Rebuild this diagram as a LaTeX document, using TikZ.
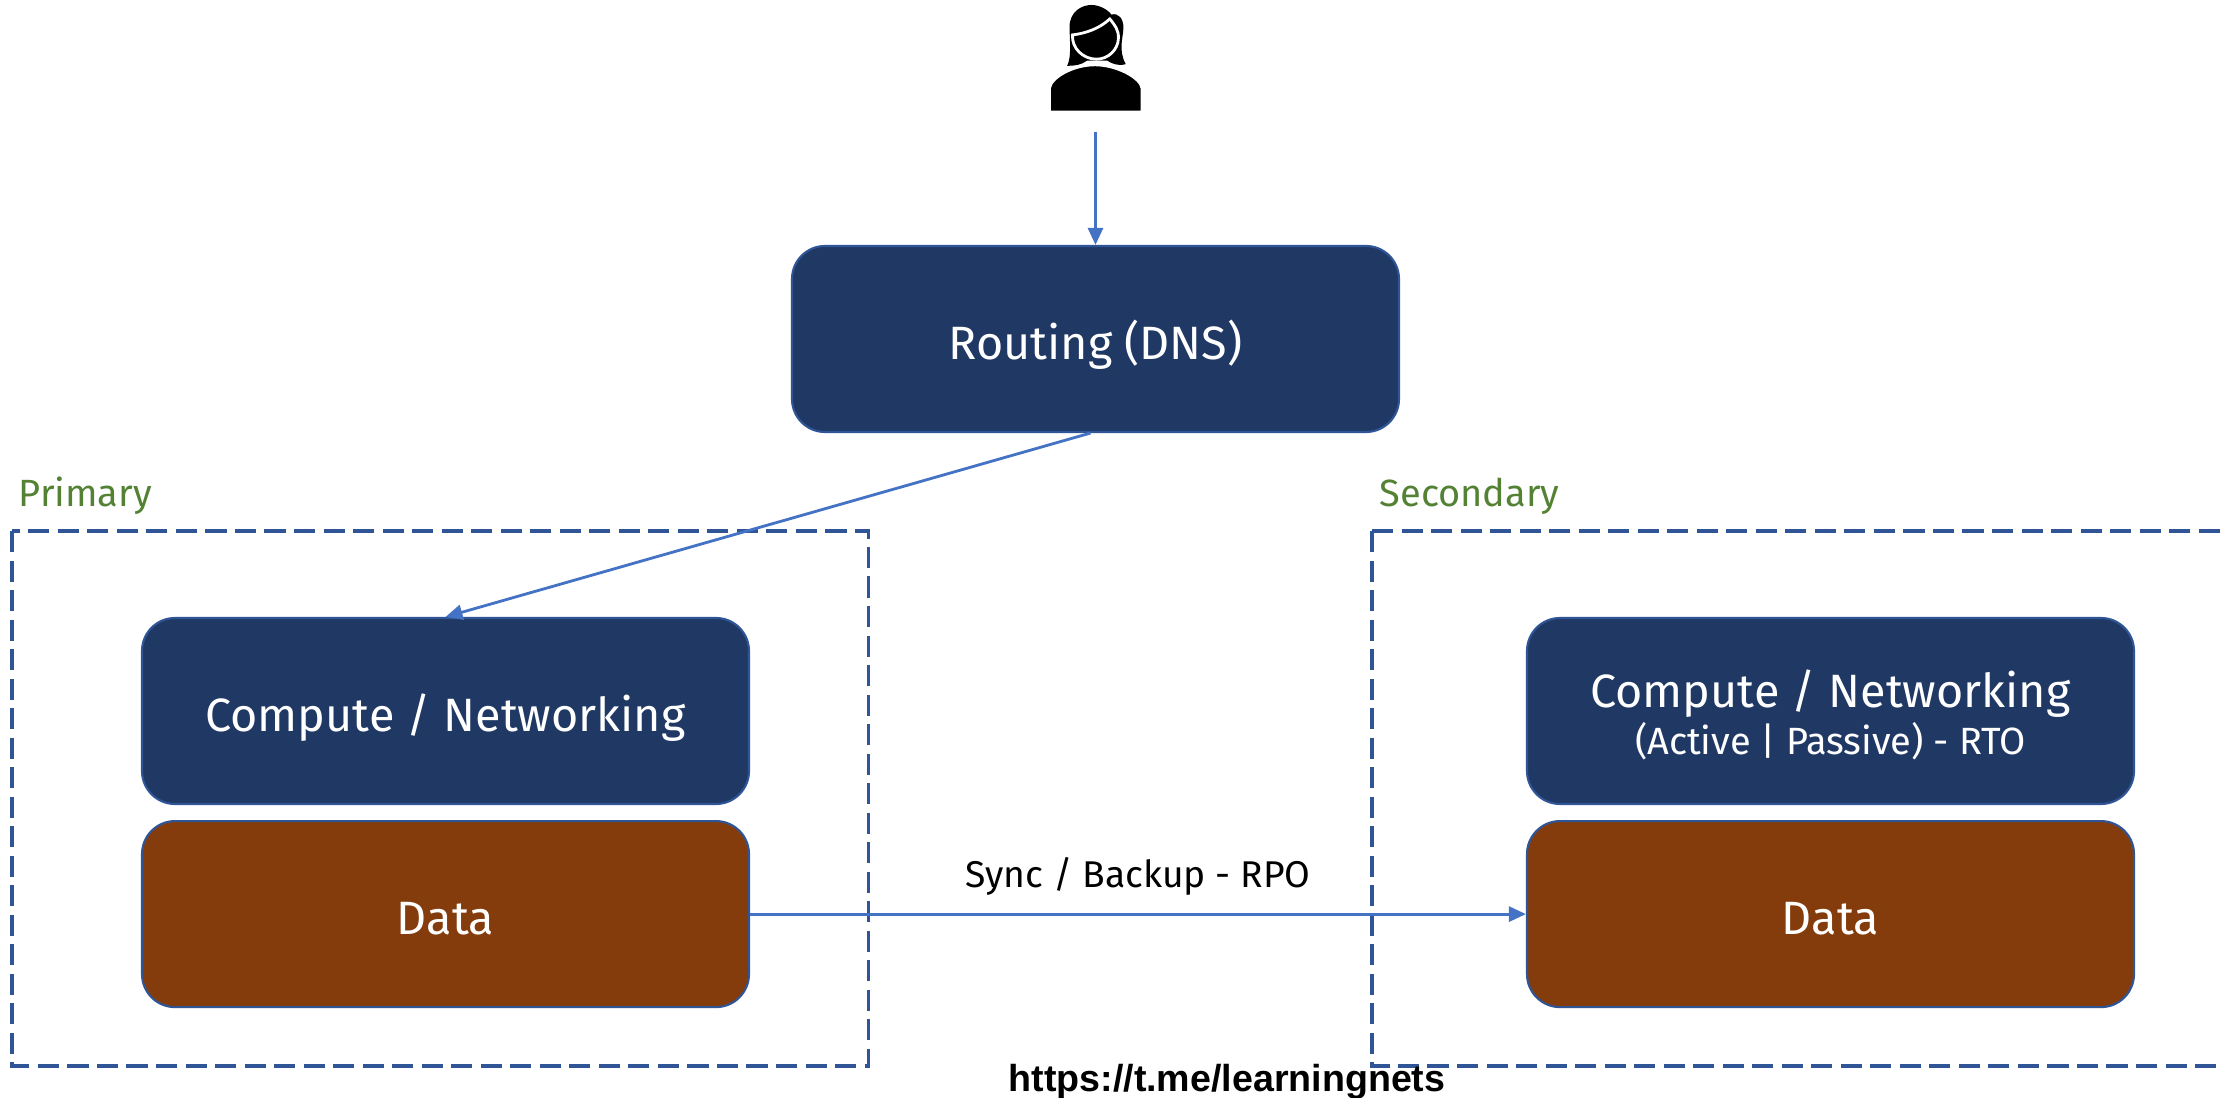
\documentclass[tikz,border=0pt]{standalone}
\usepackage{fontspec}
\setmainfont{Fira Sans}
\newfontfamily\markfont{Liberation Sans}
\usetikzlibrary{positioning}
\usetikzlibrary{arrows.meta}
\definecolor{navybox}{HTML}{1F3864}
\definecolor{brownbox}{HTML}{843C0C}
\definecolor{boxline}{HTML}{2F5597}
\definecolor{arrowline}{HTML}{4472C4}
\definecolor{sitegreen}{HTML}{548235}
\tikzset{
tier/.style={rectangle,draw=boxline,line width=0.6pt,rounded corners=0.33cm,minimum width=6.07cm,minimum height=1.86cm,inner sep=0cm,align=center,text=white,text height=0.41cm,text depth=0cm,font=\fontsize{13.3}{16}\selectfont},
compute/.style={tier,fill=navybox},
datastore/.style={tier,fill=brownbox},
site/.style={boxline,line width=0.9pt,dash pattern=on 6pt off 2.4pt},
sitelabel/.style={anchor=west,inner sep=0cm,text=sitegreen,font=\fontsize{10.8}{14}\selectfont},
link/.style={arrowline,line width=0.8pt,-{Triangle[length=0.17cm,width=0.15cm]}}
}
\begin{document}
\begin{tikzpicture}
    \newcommand{\tiergap}{0.15cm}
    \useasboundingbox (0,0) rectangle (22.25,-10.98);
    {
      \draw[site] (0.12,-5.31) rectangle (8.685,-10.66);
      \draw[site] (13.72,-5.31) -- (22.3,-5.31);
      \draw[site] (13.72,-5.31) -- (13.72,-10.66) -- (22.3,-10.66);
      \node[sitelabel](label-p) at (0.18,-4.96) {Primary};
      \node[sitelabel](label-s) at (13.79,-4.96) {Secondary};
      %
      \node[compute](routing) at (10.955,-3.39) {Routing (DNS)};
      \node[compute](compute1) at (4.455,-7.11) {Compute / Networking};
      \node[datastore, below=\tiergap of compute1](data1) {Data};
      \node[compute, text height=0.88cm](compute2) at (18.305,-7.11) {Compute / Networking\\[-2.6pt]{\fontsize{10.8}{13}\selectfont (Active | Passive) - RTO}};
      \node[datastore, below=\tiergap of compute2](data2) {Data};
      %
      \coordinate (user) at (10.955,-1.32);
      \draw[link] (user) -- (routing.north);
      \draw[link] ([xshift=-0.05cm]routing.south) -- (compute1.north);
      \draw[link] (data1) -- node[above=0.17cm, inner sep=0cm, text=black, font=\fontsize{10.6}{14}\selectfont](sync) {Sync / Backup - RPO} (data2);
      %
      \node[inner sep=0cm, font=\markfont\bfseries\fontsize{10.7}{14}\selectfont](mark) at (12.27,-10.82) {https://t.me/learningnets};
    }
    % person
    \begin{scope}[shift={(10,0)}, x=0.00333cm, y=-0.00333cm]
      \fill[black] (202,198) .. controls (215,170) and (210,130) .. (209,80) .. controls (210,35) and (245,15) .. (275,15) .. controls (300,15) and (325,30) .. (335,44) .. controls (355,38) and (372,55) .. (371,85) .. controls (370,115) and (355,150) .. (378,193) .. controls (365,197) and (345,197) .. (322,182) -- (262,182) .. controls (245,195) and (225,198) .. (202,198) -- cycle;
      \filldraw[black, draw=white, line width=0.8pt] (218,105) .. controls (260,100) and (300,85) .. (330,57) .. controls (345,75) and (357,90) .. (356,115) .. controls (355,150) and (325,178) .. (290,178) .. controls (250,178) and (215,145) .. (218,105) -- cycle;
      \filldraw[black, draw=white, line width=0.4pt] (151,335) -- (151,265) .. controls (155,235) and (220,197) .. (285,197) .. controls (350,197) and (420,235) .. (425,265) -- (425,335) -- cycle;
    \end{scope}
  \end{tikzpicture}
\end{document}
